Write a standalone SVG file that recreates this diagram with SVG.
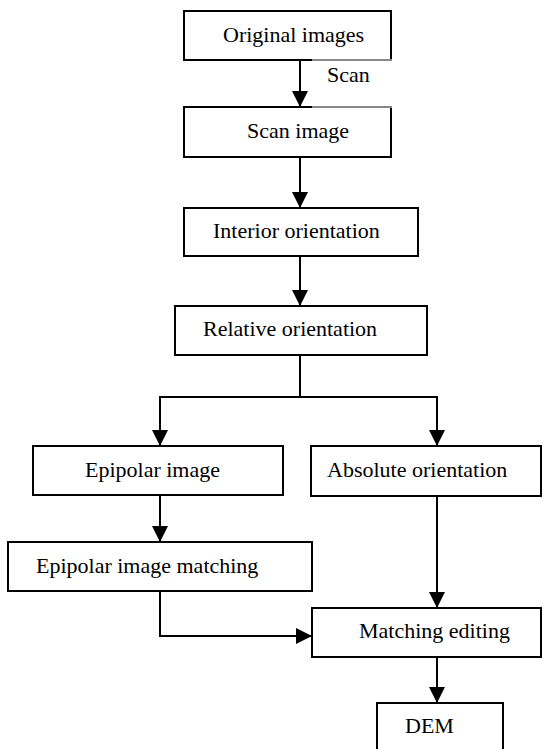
<svg xmlns="http://www.w3.org/2000/svg" width="556" height="749" viewBox="0 0 556 749">
<defs>
<marker id="ah" markerUnits="userSpaceOnUse" markerWidth="16" markerHeight="16" viewBox="0 0 16 16" refX="16" refY="8" orient="auto">
<path d="M0,0 L16,8 L0,16 Z" fill="#000"/>
</marker>
</defs>
<style>
.box{fill:#fff;stroke:#000;stroke-width:2}
.con{fill:none;stroke:#000;stroke-width:2}
</style>
<rect width="556" height="749" fill="#fff"/>
<g id="connectors">
<line class="con" x1="300" y1="60" x2="300" y2="107" marker-end="url(#ah)"/>
<line class="con" x1="300" y1="157" x2="300" y2="208" marker-end="url(#ah)"/>
<line class="con" x1="300" y1="256" x2="300" y2="306" marker-end="url(#ah)"/>
<polyline class="con" points="300,355 300,397 160,397 160,446" marker-end="url(#ah)"/>
<polyline class="con" points="300,397 437,397 437,446" marker-end="url(#ah)"/>
<line class="con" x1="160" y1="495" x2="160" y2="542" marker-end="url(#ah)"/>
<line class="con" x1="437" y1="496" x2="437" y2="608" marker-end="url(#ah)"/>
<polyline class="con" points="160,591 160,636 312,636" marker-end="url(#ah)"/>
<line class="con" x1="437" y1="657" x2="437" y2="703" marker-end="url(#ah)"/>
</g>
<g font-family="Liberation Serif, Tinos, Times New Roman, Nimbus Roman, DejaVu Serif, serif" font-size="22" fill="#000">
<g id="n1"><rect class="box" x="184" y="11" width="207" height="49"/><text x="223" y="42">Original images</text></g>
<g id="n2"><rect class="box" x="184" y="107" width="207" height="50"/><text x="247" y="138">Scan image</text></g>
<g id="scanlabel">
<line x1="312" y1="60" x2="392" y2="60" stroke="#888" stroke-width="2"/>
<line x1="312" y1="107" x2="392" y2="107" stroke="#888" stroke-width="2"/>
<text x="327" y="82">Scan</text>
</g>
<g id="n3"><rect class="box" x="184" y="208" width="234" height="48"/><text x="213" y="238">Interior orientation</text></g>
<g id="n4"><rect class="box" x="175" y="306" width="252" height="49"/><text x="203" y="336">Relative orientation</text></g>
<g id="n5"><rect class="box" x="33" y="446" width="250" height="49"/><text x="85" y="477">Epipolar image</text></g>
<g id="n6"><rect class="box" x="311" y="446" width="230" height="50"/><text x="327" y="477">Absolute orientation</text></g>
<g id="n7"><rect class="box" x="8" y="542" width="304" height="49"/><text x="36" y="573">Epipolar image matching</text></g>
<g id="n8"><rect class="box" x="312" y="608" width="229" height="49"/><text x="359" y="638">Matching editing</text></g>
<g id="n9"><rect class="box" x="377" y="703" width="126" height="60"/><text x="405" y="733">DEM</text></g>
</g>
</svg>
